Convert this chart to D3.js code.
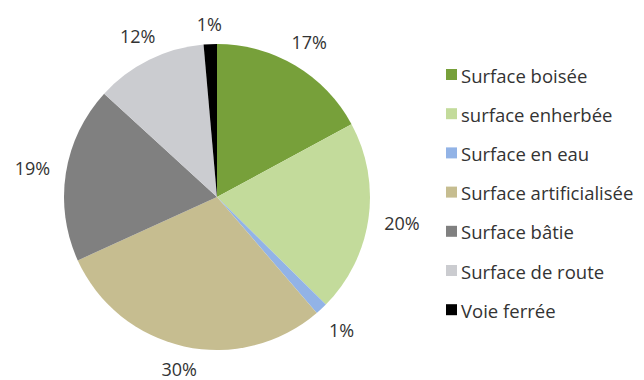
<!DOCTYPE html>
<html>
<head>
<meta charset="utf-8">
<script src="https://cdn.jsdelivr.net/npm/d3@7"></script>
<style>
  html, body { margin: 0; padding: 0; background: #ffffff; }
  svg { display: block; font-family: "Open Sans", "Lato", sans-serif; }
</style>
</head>
<body>
<svg id="chart" width="644" height="380"></svg>
<script>
// Land cover shares (percent)
const categories = [
  "Surface boisée",
  "surface enherbée",
  "Surface en eau",
  "Surface artificialisée",
  "Surface bâtie",
  "Surface de route",
  "Voie ferrée"
];
const shares = [17.1, 20.3, 1.3, 29.5, 18.6, 11.8, 1.4];
const colors = ["#77a03a", "#c3db9b", "#92b3e6", "#c6bd90", "#808080", "#cbccd0", "#000000"];

const svg = d3.select("#chart");
const cx = 217, cy = 197, r = 153;

const data = categories.map((c, i) => ({ name: c, value: shares[i], color: colors[i] }));

const pie = d3.pie().value(d => d.value).sort(null);
const arc = d3.arc().innerRadius(0).outerRadius(r);

const g = svg.append("g").attr("transform", `translate(${cx},${cy})`);
const arcs = pie(data);

g.selectAll("path.slice")
  .data(arcs)
  .join("path")
  .attr("class", "slice")
  .attr("d", arc)
  .attr("fill", d => d.data.color);

// percentage labels outside each slice; side labels sit a bit further out
// so their text box clears the rim
function labelPos(d) {
  const a = (d.startAngle + d.endAngle) / 2;
  const s = Math.sin(a), c = Math.cos(a);
  const R = r + 20 + 14 * Math.abs(s);
  return [R * s, -R * c];
}
const fmt = v => Math.round(v) + "%";
g.selectAll("text.pct")
  .data(arcs)
  .join("text")
  .attr("class", "pct")
  .attr("transform", d => `translate(${labelPos(d)})`)
  .attr("text-anchor", "middle")
  .attr("dominant-baseline", "central")
  .attr("font-size", 18)
  .attr("fill", "#333")
  .text(d => fmt(d.data.value));

// legend
const legend = svg.append("g").attr("transform", "translate(446,75)");
const rowStep = 39.2;
const rows = legend.selectAll("g.row")
  .data(data)
  .join("g")
  .attr("class", "row")
  .attr("transform", (d, i) => `translate(0,${i * rowStep})`);

rows.append("rect")
  .attr("x", 0).attr("y", -6)
  .attr("width", 11).attr("height", 11)
  .attr("fill", d => d.color);

rows.append("text")
  .attr("x", 15)
  .attr("y", 0)
  .attr("dominant-baseline", "central")
  .attr("font-size", 18.5)
  .attr("fill", "#333")
  .text(d => d.name);
</script>
</body>
</html>
